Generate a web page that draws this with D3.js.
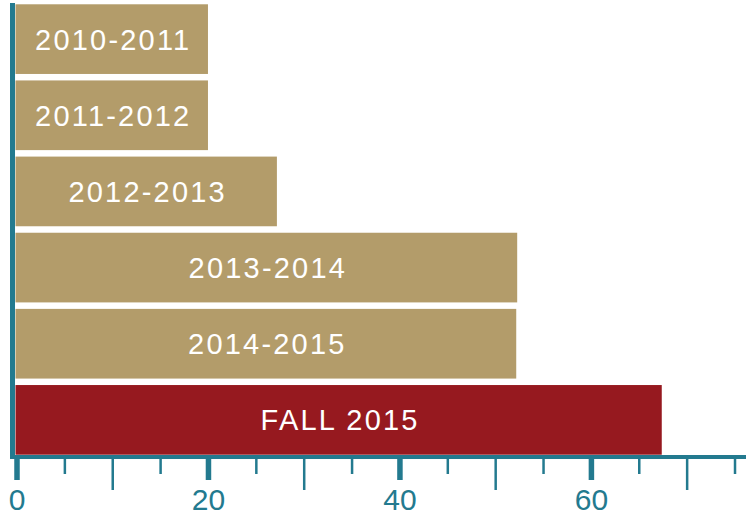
<!DOCTYPE html>
<html>
<head>
<meta charset="utf-8">
<script src="https://cdn.jsdelivr.net/npm/d3@7"></script>
<style>
  body { margin: 0; background: #fff; }
  svg { display: block; }
</style>
</head>
<body>
<svg width="756" height="517"></svg>
<script>
const years = ["2010-2011", "2011-2012", "2012-2013", "2013-2014", "2014-2015", "FALL 2015"];
const values = [20, 20, 27.2, 52.3, 52.2, 67.4];
const majorTicks = [0, 20, 40, 60];
const midTicks = [10, 30, 50, 70];
const minorTicks = [5, 15, 25, 35, 45, 55, 65, 75];

const svg = d3.select("svg");
const teal = "#237a8f";
const tan = "#b39c6a";
const red = "#96191f";

const x = d3.scaleLinear().domain([0, 76.2]).range([16.5, 746]);
const y = d3.scaleBand().domain(years).range([2, 457]).paddingInner(0.085).paddingOuter(0.03);

// bars
svg.append("g").selectAll("rect")
  .data(years)
  .enter()
  .append("rect")
  .attr("x", x(0) - 1)
  .attr("y", d => y(d))
  .attr("width", (d, i) => x(values[i]) - x(0) + 1)
  .attr("height", y.bandwidth())
  .attr("fill", (d, i) => i === years.length - 1 ? red : tan);

// labels inside bars
svg.append("g").selectAll("text")
  .data(years)
  .enter()
  .append("text")
  .attr("x", (d, i) => (x(0) + x(values[i])) / 2 + 1)
  .attr("y", d => y(d) + y.bandwidth() / 2 + 10.5)
  .attr("text-anchor", "middle")
  .attr("fill", "#fff")
  .style("font-family", "'Liberation Sans', Arial, sans-serif")
  .style("font-size", "29px")
  .style("letter-spacing", "2.2px")
  .text(d => d);

// x axis, three tiers of ticks
const axisY = 457;
function tier(vals, size, width, withLabels) {
  const ax = d3.axisBottom(x).tickValues(vals).tickSize(size).tickSizeOuter(0)
    .tickFormat(withLabels ? d3.format("d") : "");
  const g = svg.append("g").attr("transform", `translate(0,${axisY})`).call(ax);
  g.select(".domain").remove();
  g.selectAll(".tick line").attr("stroke", teal).attr("stroke-width", width);
  g.selectAll(".tick text")
    .attr("fill", teal)
    .attr("dy", 0)
    .attr("y", 53)
    .style("font-family", "'Liberation Sans', Arial, sans-serif")
    .style("font-size", "30px");
  return g;
}
tier(minorTicks, 17, 2.5, false);
tier(midTicks, 33, 2.5, false);
tier(majorTicks, 23, 5.5, true);

// axis lines
svg.append("line")
  .attr("x1", 10).attr("x2", x.range()[1])
  .attr("y1", axisY).attr("y2", axisY)
  .attr("stroke", teal).attr("stroke-width", 4);
svg.append("line")
  .attr("x1", 12.5).attr("x2", 12.5)
  .attr("y1", 3).attr("y2", axisY + 2)
  .attr("stroke", teal).attr("stroke-width", 5);
</script>
</body>
</html>
